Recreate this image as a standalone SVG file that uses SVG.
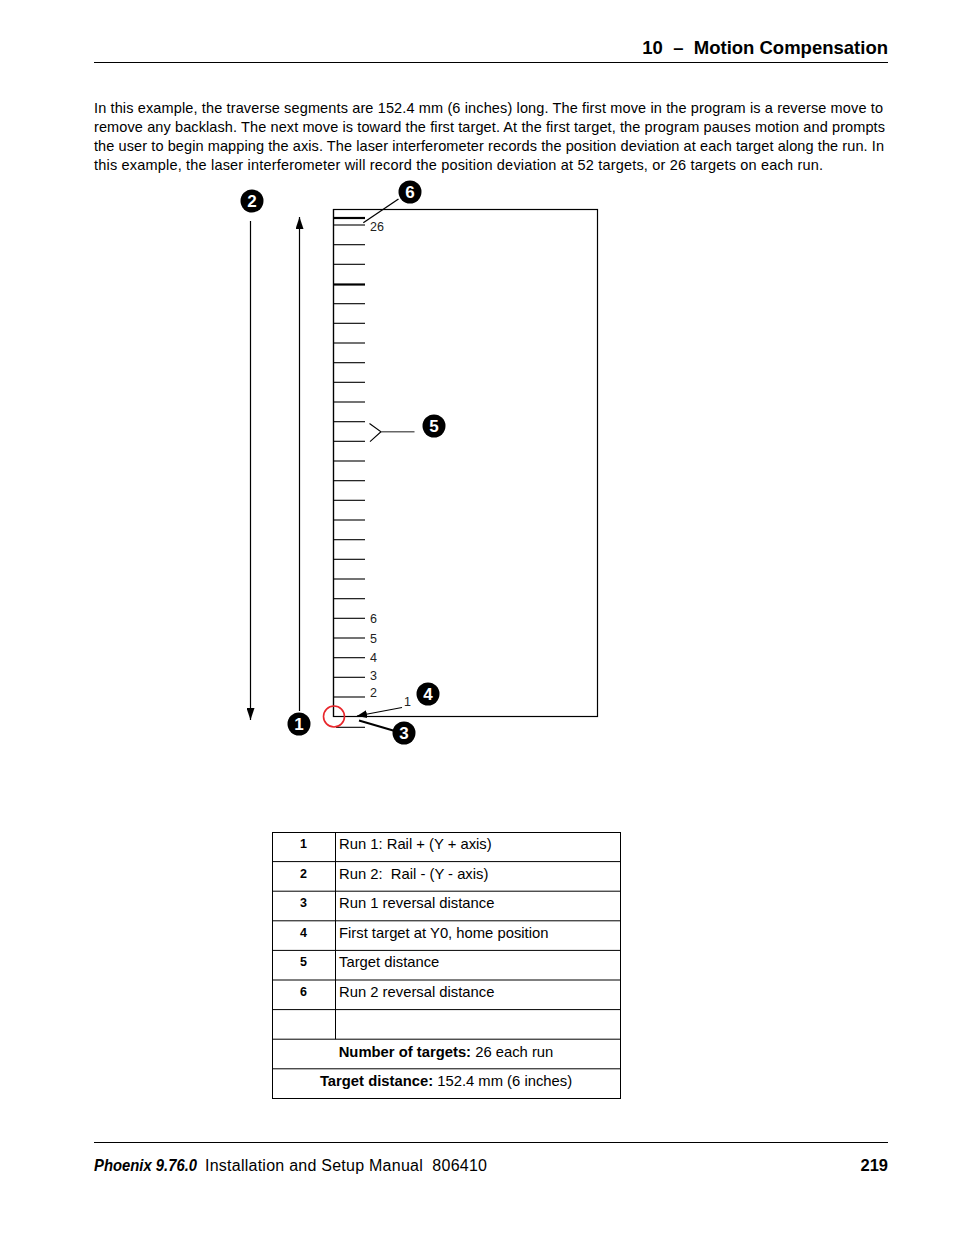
<svg xmlns="http://www.w3.org/2000/svg" width="954" height="1235" viewBox="0 0 954 1235">
<style>
text{font-family:"Liberation Sans",Arial,sans-serif;fill:#000}
.p{font-size:14.5px}
.b{font-weight:bold}
.ln{stroke:#000;stroke-width:1.2;fill:none}
.tk{stroke:#000;stroke-width:1.1}
.lbl{font-size:12.5px;fill:#222}
.cn{fill:#000}
.ct{fill:#fff;font-size:17px;font-weight:bold;text-anchor:middle}
.tb{stroke:#000;stroke-width:1;fill:none}
.tn{font-size:12.5px;font-weight:bold;text-anchor:middle}
.tt{font-size:14.8px}
</style>
<defs>
<marker id="ah" viewBox="0 0 10 10" refX="10" refY="5" markerWidth="10" markerHeight="10" markerUnits="userSpaceOnUse" orient="auto">
<path d="M0,1 L10,5 L0,9 Z" fill="#000"/>
</marker>
<marker id="ahl" viewBox="0 0 12 8" refX="12" refY="4" markerWidth="12" markerHeight="8" markerUnits="userSpaceOnUse" orient="auto">
<path d="M0,0 L12,4 L0,8 Z" fill="#000"/>
</marker>
</defs>
<g id="header">
<text x="888" y="54" class="b" font-size="18.5" text-anchor="end" xml:space="preserve">10  –  Motion Compensation</text>
<line x1="94" y1="62.5" x2="888" y2="62.5" stroke="#000" stroke-width="1"/>
</g>
<g id="paragraph">
<text x="94" y="113" class="p" textLength="789" lengthAdjust="spacing">In this example, the traverse segments are 152.4 mm (6 inches) long. The first move in the program is a reverse move to</text>
<text x="94" y="131.5" class="p" textLength="791" lengthAdjust="spacing">remove any backlash. The next move is toward the first target. At the first target, the program pauses motion and prompts</text>
<text x="94" y="150.5" class="p" textLength="790" lengthAdjust="spacing">the user to begin mapping the axis. The laser interferometer records the position deviation at each target along the run. In</text>
<text x="94" y="169.5" class="p" textLength="729" lengthAdjust="spacing">this example, the laser interferometer will record the position deviation at 52 targets, or 26 targets on each run.</text>
</g>
<g id="frame">
<rect x="333.5" y="209.5" width="264" height="507" class="ln"/>
<line x1="333.5" y1="209" x2="333.5" y2="717" class="ln"/>
</g>
<g id="ticks">
<line x1="333" y1="218" x2="365" y2="218" stroke="#000" stroke-width="2.2"/>
<line x1="333" y1="225" x2="365" y2="225" class="tk"/>
<line x1="333" y1="244.7" x2="365" y2="244.7" class="tk"/>
<line x1="333" y1="264.3" x2="365" y2="264.3" class="tk"/>
<line x1="333" y1="284.5" x2="365" y2="284.5" stroke="#000" stroke-width="2.2"/>
<line x1="333" y1="303.7" x2="365" y2="303.7" class="tk"/>
<line x1="333" y1="323.3" x2="365" y2="323.3" class="tk"/>
<line x1="333" y1="343" x2="365" y2="343" class="tk"/>
<line x1="333" y1="362.7" x2="365" y2="362.7" class="tk"/>
<line x1="333" y1="382.3" x2="365" y2="382.3" class="tk"/>
<line x1="333" y1="402" x2="365" y2="402" class="tk"/>
<line x1="333" y1="421.7" x2="365" y2="421.7" class="tk"/>
<line x1="333" y1="441.3" x2="365" y2="441.3" class="tk"/>
<line x1="333" y1="461" x2="365" y2="461" class="tk"/>
<line x1="333" y1="480.7" x2="365" y2="480.7" class="tk"/>
<line x1="333" y1="500.3" x2="365" y2="500.3" class="tk"/>
<line x1="333" y1="520" x2="365" y2="520" class="tk"/>
<line x1="333" y1="539.7" x2="365" y2="539.7" class="tk"/>
<line x1="333" y1="559.3" x2="365" y2="559.3" class="tk"/>
<line x1="333" y1="579" x2="365" y2="579" class="tk"/>
<line x1="333" y1="598.7" x2="365" y2="598.7" class="tk"/>
<line x1="333" y1="618.3" x2="365" y2="618.3" class="tk"/>
<line x1="333" y1="638" x2="365" y2="638" class="tk"/>
<line x1="333" y1="657.7" x2="365" y2="657.7" class="tk"/>
<line x1="333" y1="677.3" x2="365" y2="677.3" class="tk"/>
<line x1="333" y1="697" x2="365" y2="697" class="tk"/>
<line x1="336" y1="727.3" x2="365" y2="727.3" class="tk"/>
<text x="370" y="231" class="lbl">26</text>
<text x="370" y="622.5" class="lbl">6</text>
<text x="370" y="642.5" class="lbl">5</text>
<text x="370" y="662" class="lbl">4</text>
<text x="370" y="679.5" class="lbl">3</text>
<text x="370" y="697" class="lbl">2</text>
<text x="404" y="706" class="lbl">1</text>
</g>
<g id="connectors">
<line x1="250.5" y1="221" x2="250.5" y2="720" class="ln" marker-end="url(#ahl)"/>
<line x1="299.5" y1="711" x2="299.5" y2="217" class="ln" marker-end="url(#ahl)"/>
<line x1="363.3" y1="222.7" x2="398.5" y2="199" stroke="#000" stroke-width="1.3"/>
<polyline points="369.5,423.5 381,431.7 370,441.7" fill="none" stroke="#000" stroke-width="1.1"/>
<line x1="381" y1="431.7" x2="414.5" y2="431.7" stroke="#666" stroke-width="1.6"/>
<line x1="402" y1="707.5" x2="357" y2="716" stroke="#000" stroke-width="1.1" marker-end="url(#ah)"/>
<line x1="359" y1="720.5" x2="394" y2="730.8" stroke="#000" stroke-width="2"/>
<circle cx="334" cy="716.5" r="10.5" fill="none" stroke="#e8262b" stroke-width="1.6"/>
</g>
<g id="callout-1"><circle cx="299" cy="724" r="11.5" class="cn"/><text x="299" y="730" class="ct">1</text></g>
<g id="callout-2"><circle cx="252" cy="201" r="11.5" class="cn"/><text x="252" y="207" class="ct">2</text></g>
<g id="callout-3"><circle cx="404" cy="733" r="11.5" class="cn"/><text x="404" y="739" class="ct">3</text></g>
<g id="callout-4"><circle cx="428" cy="694" r="11.5" class="cn"/><text x="428" y="700" class="ct">4</text></g>
<g id="callout-5"><circle cx="434" cy="426" r="11.5" class="cn"/><text x="434" y="432" class="ct">5</text></g>
<g id="callout-6"><circle cx="410" cy="192" r="11.5" class="cn"/><text x="410" y="198" class="ct">6</text></g>
<g id="legend-table">
<rect x="272.5" y="832.5" width="348" height="266" class="tb"/>
<line x1="335.5" y1="832.5" x2="335.5" y2="1039.2" class="tb"/>
<line x1="272.5" y1="861.6" x2="620.5" y2="861.6" class="tb"/>
<line x1="272.5" y1="891.2" x2="620.5" y2="891.2" class="tb"/>
<line x1="272.5" y1="920.8" x2="620.5" y2="920.8" class="tb"/>
<line x1="272.5" y1="950.4" x2="620.5" y2="950.4" class="tb"/>
<line x1="272.5" y1="980" x2="620.5" y2="980" class="tb"/>
<line x1="272.5" y1="1009.6" x2="620.5" y2="1009.6" class="tb"/>
<line x1="272.5" y1="1039.2" x2="620.5" y2="1039.2" class="tb"/>
<line x1="272.5" y1="1068.8" x2="620.5" y2="1068.8" class="tb"/>
<text x="303.5" y="848" class="tn">1</text><text x="339" y="849" class="tt">Run 1: Rail + (Y + axis)</text>
<text x="303.5" y="877.5" class="tn">2</text><text x="339" y="878.5" class="tt" xml:space="preserve">Run 2:  Rail - (Y - axis)</text>
<text x="303.5" y="907" class="tn">3</text><text x="339" y="908" class="tt">Run 1 reversal distance</text>
<text x="303.5" y="936.5" class="tn">4</text><text x="339" y="937.5" class="tt">First target at Y0, home position</text>
<text x="303.5" y="966" class="tn">5</text><text x="339" y="967" class="tt">Target distance</text>
<text x="303.5" y="995.5" class="tn">6</text><text x="339" y="996.5" class="tt">Run 2 reversal distance</text>
<text x="446" y="1056.5" class="tt" text-anchor="middle"><tspan class="b">Number of targets:</tspan> 26 each run</text>
<text x="446" y="1086" class="tt" text-anchor="middle"><tspan class="b">Target distance:</tspan> 152.4 mm (6 inches)</text>
</g>
<g id="footer">
<line x1="94" y1="1142.5" x2="888" y2="1142.5" stroke="#000" stroke-width="1"/>
<text x="94" y="1171" font-size="16.5" font-weight="bold" font-style="italic" textLength="103" lengthAdjust="spacingAndGlyphs">Phoenix 9.76.0</text>
<text x="205" y="1171" font-size="16" textLength="282" lengthAdjust="spacing" xml:space="preserve">Installation and Setup Manual  806410</text>
<text x="888" y="1171" font-size="16.5" font-weight="bold" text-anchor="end">219</text>
</g>
</svg>
